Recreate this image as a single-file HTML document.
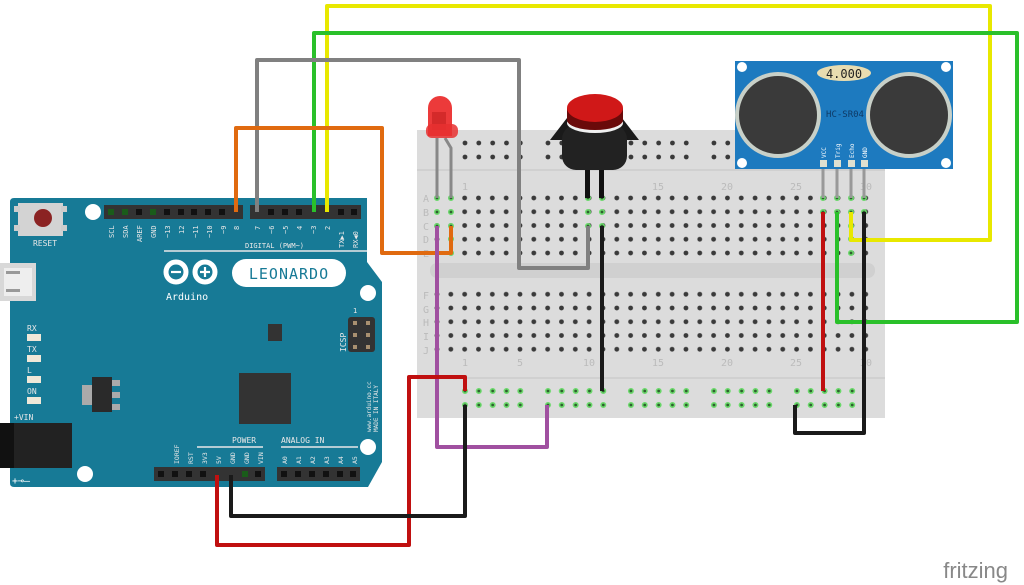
<!DOCTYPE html>
<html><head><meta charset="utf-8"><style>
html,body{margin:0;padding:0;background:#fff;width:1024px;height:585px;overflow:hidden}
svg{display:block}
text{font-family:"DejaVu Sans Mono","Liberation Mono",monospace}
</style></head><body>
<svg width="1024" height="585" viewBox="0 0 1024 585" xmlns="http://www.w3.org/2000/svg">
<defs>
<pattern id="holes" x="430.1" y="191.1" width="13.83" height="13.75" patternUnits="userSpaceOnUse">
<circle cx="6.9" cy="6.9" r="2.4" fill="#3a3a3a"/></pattern>
<pattern id="rail" x="458.1" y="0" width="82.98" height="585" patternUnits="userSpaceOnUse">
<g fill="#3a3a3a"><circle cx="6.9" cy="143" r="2.4"/><circle cx="20.7" cy="143" r="2.4"/><circle cx="34.6" cy="143" r="2.4"/><circle cx="48.4" cy="143" r="2.4"/><circle cx="62.2" cy="143" r="2.4"/>
<circle cx="6.9" cy="157" r="2.4"/><circle cx="20.7" cy="157" r="2.4"/><circle cx="34.6" cy="157" r="2.4"/><circle cx="48.4" cy="157" r="2.4"/><circle cx="62.2" cy="157" r="2.4"/></g></pattern>
<pattern id="railg" x="458.1" y="0" width="82.98" height="585" patternUnits="userSpaceOnUse">
<g fill="#2f5f2f" stroke="#6ad86a" stroke-width="1.6"><circle cx="6.9" cy="391" r="2.2"/><circle cx="20.7" cy="391" r="2.2"/><circle cx="34.6" cy="391" r="2.2"/><circle cx="48.4" cy="391" r="2.2"/><circle cx="62.2" cy="391" r="2.2"/>
<circle cx="6.9" cy="405" r="2.2"/><circle cx="20.7" cy="405" r="2.2"/><circle cx="34.6" cy="405" r="2.2"/><circle cx="48.4" cy="405" r="2.2"/><circle cx="62.2" cy="405" r="2.2"/></g></pattern>
</defs>

<!-- Breadboard -->
<rect x="417" y="130" width="468" height="288" fill="#dcdcdc"/>
<line x1="417" y1="170" x2="885" y2="170" stroke="#c4c4c4"/>
<line x1="417" y1="378" x2="885" y2="378" stroke="#c4c4c4"/>
<rect x="430" y="263" width="445" height="15" rx="7" fill="#d0d0d0"/>
<rect x="458.1" y="130" width="400" height="40" fill="url(#rail)"/>
<rect x="458.1" y="378" width="400" height="40" fill="url(#railg)"/>
<rect x="430" y="191" width="442" height="69" fill="url(#holes)"/>
<rect x="430" y="288" width="442" height="69" fill="url(#holes)"/>
<g font-size="10" fill="#bbb" style="font-family:'Liberation Sans',sans-serif" text-anchor="middle">
<text x="465" y="190">1</text><text x="658" y="190">15</text><text x="727" y="190">20</text><text x="796" y="190">25</text><text x="866" y="190">30</text>
<text x="465" y="366">1</text><text x="520" y="366">5</text><text x="589" y="366">10</text><text x="658" y="366">15</text><text x="727" y="366">20</text><text x="796" y="366">25</text><text x="866" y="366">30</text>
<text x="426" y="202">A</text><text x="426" y="216">B</text><text x="426" y="230">C</text><text x="426" y="243">D</text><text x="426" y="257">E</text>
<text x="426" y="299">F</text><text x="426" y="313">G</text><text x="426" y="326">H</text><text x="426" y="340">I</text><text x="426" y="354">J</text>
</g>
<g fill="#2f5f2f" stroke="#6ad86a" stroke-width="1.6">
<circle cx="437" cy="198" r="2.2"/><circle cx="451" cy="198" r="2.2"/><circle cx="437" cy="212" r="2.2"/><circle cx="451" cy="212" r="2.2"/><circle cx="437" cy="226" r="2.2"/><circle cx="451" cy="226" r="2.2"/><circle cx="451" cy="239" r="2.2"/><circle cx="451" cy="253" r="2.2"/>
<circle cx="588" cy="198" r="2.2"/><circle cx="602" cy="198" r="2.2"/><circle cx="588" cy="212" r="2.2"/><circle cx="602" cy="212" r="2.2"/><circle cx="588" cy="226" r="2.2"/><circle cx="602" cy="226" r="2.2"/>
<circle cx="823" cy="198" r="2.2"/><circle cx="837" cy="198" r="2.2"/><circle cx="851" cy="198" r="2.2"/><circle cx="864" cy="198" r="2.2"/>
<circle cx="823" cy="212" r="2.2"/><circle cx="837" cy="212" r="2.2"/><circle cx="851" cy="212" r="2.2"/><circle cx="864" cy="212" r="2.2"/>
<circle cx="851" cy="226" r="2.2"/><circle cx="851" cy="239" r="2.2"/><circle cx="851" cy="253" r="2.2"/>
</g>

<!-- Arduino board -->
<path d="M14,198 H367 V262 L382,282 V462 L368,487 H14 Q10,487 10,483 V202 Q10,198 14,198Z" fill="#177a96"/>
<circle cx="93" cy="212" r="8" fill="#fff"/><circle cx="368" cy="293" r="8" fill="#fff"/><circle cx="368" cy="447" r="8" fill="#fff"/><circle cx="85" cy="474" r="8" fill="#fff"/>
<rect x="18" y="203" width="45" height="33" fill="#d3d3d3"/>
<rect x="14" y="206" width="6" height="6" fill="#ccc"/><rect x="61" y="206" width="6" height="6" fill="#ccc"/><rect x="14" y="225" width="6" height="6" fill="#ccc"/><rect x="61" y="225" width="6" height="6" fill="#ccc"/>
<circle cx="43" cy="218" r="9" fill="#8b2323"/>
<text x="45" y="246" font-size="8" fill="#e8e8e8" text-anchor="middle">RESET</text>
<rect x="0" y="263" width="36" height="38" fill="#d8d8d8"/><rect x="4" y="268" width="28" height="28" fill="#eee"/>
<rect x="6" y="271" width="14" height="3" fill="#999"/><rect x="6" y="289" width="14" height="3" fill="#999"/>
<rect x="104" y="205" width="139" height="14" fill="#333"/>
<rect x="250" y="205" width="111" height="14" fill="#333"/>
<g fill="#111">
<rect x="108" y="209" width="6" height="6" fill="#1a5c1a"/><rect x="122" y="209" width="6" height="6" fill="#1a5c1a"/><rect x="136" y="209" width="6" height="6"/><rect x="150" y="209" width="6" height="6" fill="#1a5c1a"/><rect x="164" y="209" width="6" height="6"/><rect x="178" y="209" width="6" height="6"/><rect x="191" y="209" width="6" height="6"/><rect x="205" y="209" width="6" height="6"/><rect x="219" y="209" width="6" height="6"/>
<rect x="268" y="209" width="6" height="6"/><rect x="282" y="209" width="6" height="6"/><rect x="296" y="209" width="6" height="6"/><rect x="338" y="209" width="6" height="6"/><rect x="351" y="209" width="6" height="6"/>
</g>
<g font-size="7" fill="#e8e8e8">
<text transform="translate(114,238) rotate(-90)">SCL</text><text transform="translate(128,238) rotate(-90)">SDA</text><text transform="translate(142,242) rotate(-90)">AREF</text><text transform="translate(156,238) rotate(-90)">GND</text>
<text transform="translate(170,238) rotate(-90)">~13</text><text transform="translate(184,234) rotate(-90)">12</text><text transform="translate(198,238) rotate(-90)">~11</text><text transform="translate(212,238) rotate(-90)">~10</text><text transform="translate(226,234) rotate(-90)">~9</text><text transform="translate(239,230) rotate(-90)">8</text>
<text transform="translate(260,230) rotate(-90)">7</text><text transform="translate(274,234) rotate(-90)">~6</text><text transform="translate(288,234) rotate(-90)">~5</text><text transform="translate(302,230) rotate(-90)">4</text><text transform="translate(316,234) rotate(-90)">~3</text><text transform="translate(330,230) rotate(-90)">2</text><text transform="translate(344,248) rotate(-90)">TX▶1</text><text transform="translate(358,248) rotate(-90)">RX◀0</text>
<text x="245" y="248">DIGITAL (PWM~)</text>
</g>
<line x1="164" y1="251" x2="367" y2="251" stroke="#e8e8e8" stroke-width="1.5"/>
<g fill="none" stroke="#fff" stroke-width="5"><circle cx="176" cy="272" r="10"/><circle cx="205" cy="272" r="10"/></g>
<g stroke="#fff" stroke-width="2.2"><line x1="171" y1="272" x2="181" y2="272"/><line x1="200" y1="272" x2="210" y2="272"/><line x1="205" y1="267" x2="205" y2="277"/></g>
<text x="166" y="300" font-size="10" fill="#fff">Arduino</text>
<rect x="232" y="259" width="114" height="28" rx="14" fill="#fff"/>
<text x="289" y="279" font-size="15" fill="#177a96" text-anchor="middle" letter-spacing="1">LEONARDO</text>
<g font-size="8" fill="#e8e8e8"><text x="27" y="331">RX</text><text x="27" y="352">TX</text><text x="27" y="373">L</text><text x="27" y="394">ON</text></g>
<g fill="#f0e8d8"><rect x="27" y="334" width="14" height="7"/><rect x="27" y="355" width="14" height="7"/><rect x="27" y="376" width="14" height="7"/><rect x="27" y="397" width="14" height="7"/></g>
<rect x="82" y="385" width="10" height="20" fill="#aaa"/><rect x="92" y="377" width="20" height="35" fill="#2a2a2a"/>
<rect x="112" y="380" width="8" height="6" fill="#aaa"/><rect x="112" y="392" width="8" height="6" fill="#aaa"/><rect x="112" y="404" width="8" height="6" fill="#aaa"/>
<rect x="268" y="324" width="14" height="17" fill="#333"/>
<rect x="239" y="373" width="52" height="51" fill="#333"/>
<rect x="348" y="317" width="27" height="35" rx="3" fill="#333"/>
<g fill="#a89070"><rect x="353" y="321" width="4" height="4"/><rect x="366" y="321" width="4" height="4"/><rect x="353" y="333" width="4" height="4"/><rect x="366" y="333" width="4" height="4"/><rect x="353" y="345" width="4" height="4"/><rect x="366" y="345" width="4" height="4"/></g>
<text x="353" y="313" font-size="7" fill="#e8e8e8">1</text>
<text transform="translate(346,352) rotate(-90)" font-size="8" fill="#e8e8e8">ICSP</text>
<text transform="translate(371,432) rotate(-90)" font-size="6" fill="#e8e8e8">www.arduino.cc</text>
<text transform="translate(378,432) rotate(-90)" font-size="6" fill="#e8e8e8">MADE IN ITALY</text>
<text x="14" y="420" font-size="8" fill="#e8e8e8">+VIN</text>
<rect x="0" y="423" width="72" height="45" fill="#222"/><rect x="0" y="423" width="14" height="45" fill="#111"/>
<text x="12" y="484" font-size="10" fill="#fff">+⊸–</text>
<rect x="154" y="467" width="111" height="14" fill="#333"/>
<rect x="277" y="467" width="83" height="14" fill="#333"/>
<g fill="#111"><rect x="158" y="471" width="6" height="6"/><rect x="172" y="471" width="6" height="6"/><rect x="186" y="471" width="6" height="6"/><rect x="200" y="471" width="6" height="6"/><rect x="242" y="471" width="6" height="6" fill="#1a5c1a"/><rect x="255" y="471" width="6" height="6"/>
<rect x="281" y="471" width="6" height="6"/><rect x="295" y="471" width="6" height="6"/><rect x="309" y="471" width="6" height="6"/><rect x="323" y="471" width="6" height="6"/><rect x="337" y="471" width="6" height="6"/><rect x="350" y="471" width="6" height="6"/></g>
<g font-size="6.5" fill="#e8e8e8">
<text transform="translate(179,464) rotate(-90)">IOREF</text><text transform="translate(193,464) rotate(-90)">RST</text><text transform="translate(207,464) rotate(-90)">3V3</text><text transform="translate(221,464) rotate(-90)">5V</text><text transform="translate(235,464) rotate(-90)">GND</text><text transform="translate(249,464) rotate(-90)">GND</text><text transform="translate(263,464) rotate(-90)">VIN</text>
<text transform="translate(287,464) rotate(-90)">A0</text><text transform="translate(301,464) rotate(-90)">A1</text><text transform="translate(315,464) rotate(-90)">A2</text><text transform="translate(329,464) rotate(-90)">A3</text><text transform="translate(343,464) rotate(-90)">A4</text><text transform="translate(357,464) rotate(-90)">A5</text>
</g>
<g font-size="8" fill="#e8e8e8"><text x="232" y="443">POWER</text><text x="281" y="443">ANALOG IN</text></g>
<line x1="197" y1="447" x2="263" y2="447" stroke="#e8e8e8" stroke-width="1.5"/>
<line x1="281" y1="447" x2="358" y2="447" stroke="#e8e8e8" stroke-width="1.5"/>

<!-- LED -->
<g stroke="#888" stroke-width="3" fill="none"><path d="M437,138 V198"/><path d="M445,138 L451,148 V198"/></g>
<path d="M428,136 V108 A12,12 0 0 1 452,108 V136Z" fill="#ec3a3a"/>
<path d="M432,130 V112 L446,112 V130Z" fill="#c42020" opacity="0.6"/>
<rect x="426" y="124" width="32" height="14" rx="6" fill="#e83030" opacity="0.85"/>
<!-- pushbutton -->
<rect x="585" y="165" width="5" height="33" fill="#111"/><rect x="599" y="165" width="5" height="33" fill="#111"/>
<path d="M550,140 L567,118 H622 L639,140Z" fill="#1a1a1a"/>
<rect x="562" y="125" width="65" height="45" rx="14" fill="#222"/>
<ellipse cx="595" cy="123" rx="28" ry="10" fill="#f0f0f0"/>
<path d="M567,108 V120 A28,10 0 0 0 623,120 V108Z" fill="#6a0a0a"/>
<ellipse cx="595" cy="108" rx="28" ry="14" fill="#d01818"/>

<!-- sensor -->
<g stroke="#999" stroke-width="3"><line x1="823" y1="168" x2="823" y2="198"/><line x1="837" y1="168" x2="837" y2="198"/><line x1="851" y1="168" x2="851" y2="198"/><line x1="864" y1="168" x2="864" y2="198"/></g>
<rect x="735" y="61" width="218" height="108" fill="#1d7abf"/>
<g fill="#fff"><circle cx="742" cy="67" r="5"/><circle cx="946" cy="67" r="5"/><circle cx="742" cy="163" r="5"/><circle cx="946" cy="163" r="5"/></g>
<circle cx="778" cy="115" r="41" fill="#3a3a3a" stroke="#c8d0c8" stroke-width="4"/>
<circle cx="909" cy="115" r="41" fill="#3a3a3a" stroke="#c8d0c8" stroke-width="4"/>
<ellipse cx="844" cy="73" rx="27" ry="8" fill="#e8dcb0"/>
<text x="844" y="78" font-size="12" fill="#222" text-anchor="middle">4.000</text>
<text x="845" y="117" font-size="9" fill="#0e3a66" text-anchor="middle">HC-SR04</text>
<g font-size="6" fill="#fff"><text transform="translate(826,158) rotate(-90)">VCC</text><text transform="translate(840,158) rotate(-90)">Trig</text><text transform="translate(854,158) rotate(-90)">Echo</text><text transform="translate(867,158) rotate(-90)">GND</text></g>
<g fill="#e0e0d0"><rect x="820" y="160" width="7" height="7"/><rect x="834" y="160" width="7" height="7"/><rect x="848" y="160" width="7" height="7"/><rect x="861" y="160" width="7" height="7"/></g>

<!-- wires -->
<g fill="none" stroke-width="4" stroke-linejoin="round">
<path d="M327,212 V6 H990 V240 H851 V212" stroke="#e8e800"/>
<path d="M314,212 V33 H1017 V322 H837 V212" stroke="#2ac02a"/>
<path d="M257,212 V60 H519 V268 H588 V226" stroke="#808080"/>
<path d="M236,212 V128 H382 V253 H451 V226" stroke="#e06a10"/>
<path d="M437,226 V447 H547 V405" stroke="#a050a0"/>
<path d="M217,475 V545 H409 V377 H465 V391" stroke="#c01010"/>
<path d="M231,475 V516 H465 V405" stroke="#1a1a1a"/>
<path d="M602,226 V391" stroke="#1a1a1a"/>
<path d="M823,212 V391" stroke="#c01010"/>
<path d="M864,212 V433 H795 V405" stroke="#1a1a1a"/>
</g>

<text x="1008" y="578" font-size="22" fill="#888" text-anchor="end" style="font-family:'Liberation Sans',sans-serif">fritzing</text>
</svg>
</body></html>
